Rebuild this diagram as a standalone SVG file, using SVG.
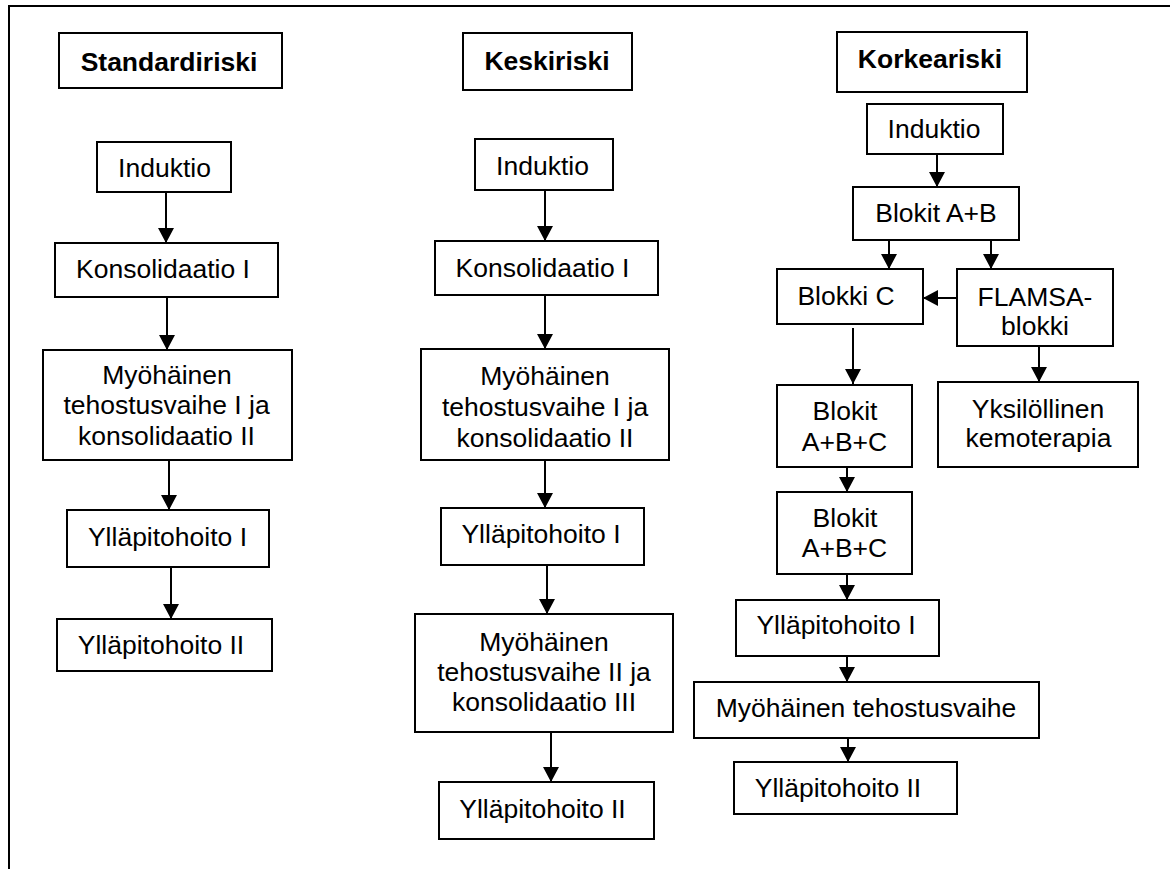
<svg xmlns="http://www.w3.org/2000/svg" width="1170" height="869" viewBox="0 0 1170 869">
  <style>
    .box { fill: #ffffff; stroke: #000000; stroke-width: 2; }
    .lbl { font-family: "Liberation Sans", Arial, sans-serif; font-size: 26.5px; fill: #000000; text-anchor: middle; }
    .hdr { font-weight: bold; }
    .edge { fill: none; stroke: #000000; stroke-width: 2; marker-end: url(#arrow); }
    .frame { fill: none; stroke: #000000; stroke-width: 2; }
  </style>
  <defs>
    <marker id="arrow" markerUnits="userSpaceOnUse" markerWidth="15" markerHeight="16" refX="15" refY="8" orient="auto">
      <path d="M0,0 L15,8 L0,16 Z" fill="#000000"/>
    </marker>
  </defs>
  <rect width="1170" height="869" fill="#ffffff"/>

  <!-- page frame: top and left rules -->
  <path class="frame" d="M9,869 L9,6 L1170,6"/>

  <!-- column 1: standard risk -->
  <g id="std-header"><rect class="box" x="59" y="33" width="223" height="55"/><text class="lbl hdr" x="169" y="71">Standardiriski</text></g>
  <g id="std-induktio"><rect class="box" x="97" y="142" width="134" height="50"/><text class="lbl" x="164.5" y="177">Induktio</text></g>
  <g id="std-kons1"><rect class="box" x="55" y="243" width="223" height="54"/><text class="lbl" x="163" y="278">Konsolidaatio I</text></g>
  <g id="std-myoh1"><rect class="box" x="43" y="350" width="249" height="110"/>
    <text class="lbl" x="167" y="384">Myöhäinen</text>
    <text class="lbl" x="166.5" y="414">tehostusvaihe I ja</text>
    <text class="lbl" x="166.5" y="445">konsolidaatio II</text></g>
  <g id="std-yll1"><rect class="box" x="67" y="510" width="202" height="57"/><text class="lbl" x="167.5" y="546">Ylläpitohoito I</text></g>
  <g id="std-yll2"><rect class="box" x="57" y="619" width="215" height="52"/><text class="lbl" x="161" y="654">Ylläpitohoito II</text></g>

  <!-- column 2: intermediate risk -->
  <g id="mid-header"><rect class="box" x="463" y="33" width="169" height="57"/><text class="lbl hdr" x="547" y="70">Keskiriski</text></g>
  <g id="mid-induktio"><rect class="box" x="475" y="139" width="138" height="51"/><text class="lbl" x="542.5" y="175">Induktio</text></g>
  <g id="mid-kons1"><rect class="box" x="435" y="241" width="223" height="54"/><text class="lbl" x="542.5" y="277">Konsolidaatio I</text></g>
  <g id="mid-myoh1"><rect class="box" x="421" y="349" width="248" height="111"/>
    <text class="lbl" x="545" y="385">Myöhäinen</text>
    <text class="lbl" x="545" y="416">tehostusvaihe I ja</text>
    <text class="lbl" x="545" y="447">konsolidaatio II</text></g>
  <g id="mid-yll1"><rect class="box" x="441" y="508" width="203" height="57"/><text class="lbl" x="541" y="543">Ylläpitohoito I</text></g>
  <g id="mid-myoh2"><rect class="box" x="415" y="614" width="258" height="118"/>
    <text class="lbl" x="544" y="651">Myöhäinen</text>
    <text class="lbl" x="544" y="681">tehostusvaihe II ja</text>
    <text class="lbl" x="544" y="711">konsolidaatio III</text></g>
  <g id="mid-yll2"><rect class="box" x="439" y="782" width="215" height="57"/><text class="lbl" x="542.5" y="818">Ylläpitohoito II</text></g>

  <!-- column 3: high risk -->
  <g id="high-header"><rect class="box" x="837" y="32" width="190" height="60"/><text class="lbl hdr" x="930" y="68">Korkeariski</text></g>
  <g id="high-induktio"><rect class="box" x="867" y="104" width="136" height="50"/><text class="lbl" x="934" y="138">Induktio</text></g>
  <g id="high-ab"><rect class="box" x="853" y="187" width="166" height="53"/><text class="lbl" x="936" y="222">Blokit A+B</text></g>
  <g id="high-c"><rect class="box" x="777" y="269" width="146" height="55"/><text class="lbl" x="846" y="305">Blokki C</text></g>
  <g id="high-flamsa"><rect class="box" x="957" y="269" width="156" height="77"/>
    <text class="lbl" x="1035" y="306">FLAMSA-</text>
    <text class="lbl" x="1035" y="335">blokki</text></g>
  <g id="high-abc1"><rect class="box" x="777" y="385" width="135" height="82"/>
    <text class="lbl" x="845" y="420">Blokit</text>
    <text class="lbl" x="844.5" y="451">A+B+C</text></g>
  <g id="high-yksil"><rect class="box" x="938" y="382" width="200" height="85"/>
    <text class="lbl" x="1038" y="418">Yksilöllinen</text>
    <text class="lbl" x="1038.5" y="447">kemoterapia</text></g>
  <g id="high-abc2"><rect class="box" x="777" y="492" width="135" height="82"/>
    <text class="lbl" x="845" y="527">Blokit</text>
    <text class="lbl" x="844.5" y="557">A+B+C</text></g>
  <g id="high-yll1"><rect class="box" x="736" y="600" width="203" height="56"/><text class="lbl" x="836" y="634">Ylläpitohoito I</text></g>
  <g id="high-myoh"><rect class="box" x="694" y="682" width="345" height="56"/><text class="lbl" x="866" y="717">Myöhäinen tehostusvaihe</text></g>
  <g id="high-yll2"><rect class="box" x="734" y="762" width="223" height="52"/><text class="lbl" x="838" y="797">Ylläpitohoito II</text></g>

  <!-- connectors -->
  <g id="connectors">
    <line class="edge" x1="166" y1="192" x2="166" y2="243"/>
    <line class="edge" x1="167" y1="297" x2="167" y2="350"/>
    <line class="edge" x1="169" y1="460" x2="169" y2="510"/>
    <line class="edge" x1="171" y1="567" x2="171" y2="619"/>

    <line class="edge" x1="545" y1="190" x2="545" y2="241"/>
    <line class="edge" x1="545" y1="295" x2="545" y2="349"/>
    <line class="edge" x1="545" y1="460" x2="545" y2="508"/>
    <line class="edge" x1="547" y1="565" x2="547" y2="614"/>
    <line class="edge" x1="551" y1="732" x2="551" y2="782"/>

    <line class="edge" x1="937" y1="154" x2="937" y2="187"/>
    <line class="edge" x1="889" y1="240" x2="889" y2="269"/>
    <line class="edge" x1="991" y1="240" x2="991" y2="269"/>
    <line class="edge" x1="957" y1="298" x2="923" y2="298"/>
    <line class="edge" x1="853" y1="328" x2="853" y2="384"/>
    <line class="edge" x1="1039" y1="346" x2="1039" y2="382"/>
    <line class="edge" x1="847" y1="467" x2="847" y2="492"/>
    <line class="edge" x1="847" y1="574" x2="847" y2="600"/>
    <line class="edge" x1="847" y1="656" x2="847" y2="682"/>
    <line class="edge" x1="848" y1="738" x2="848" y2="762"/>
  </g>
</svg>
